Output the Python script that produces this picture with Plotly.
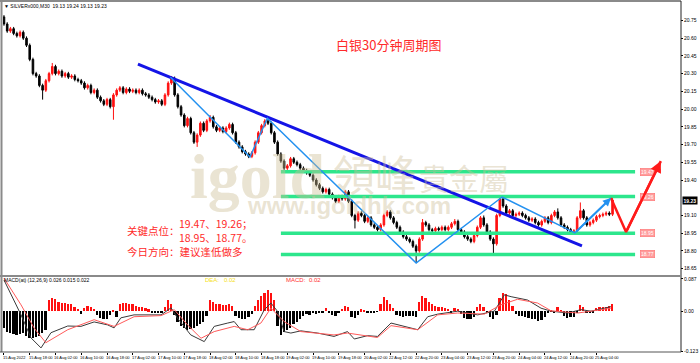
import plotly.graph_objects as go

W, H = 700, 363
def px(x): return x / W
def py(y): return 1 - y / H

# ---------------- data ----------------
closes = [
    20.72, 20.66, 20.68, 20.64, 20.62, 20.65,
    20.60, 20.54, 20.42, 20.30, 20.28, 20.20, 20.16, 20.24, 20.30, 20.36, 20.30, 20.32, 20.28, 20.30, 20.27, 20.28, 20.25, 20.24,
    20.22, 20.18, 20.20, 20.14, 20.16, 20.10, 20.07,
    20.04, 20.08, 20.02, 20.12,
    20.16, 20.18, 20.14, 20.17, 20.15, 20.16, 20.14, 20.16, 20.13, 20.12, 20.10,
    20.08, 20.06, 20.07, 20.04,
    20.12, 20.22, 20.26,
    20.12, 20.02, 19.95, 19.86, 19.92,
    19.80, 19.72, 19.78,
    19.88, 19.82, 19.90, 19.93, 19.85, 19.82, 19.84, 19.81, 19.84, 19.87, 19.80,
    19.72, 19.68, 19.64, 19.62, 19.60,
    19.63, 19.72, 19.80, 19.86, 19.90, 19.88,
    19.80, 19.72, 19.62, 19.56, 19.50, 19.52,
    19.58, 19.55, 19.53, 19.50, 19.48, 19.46, 19.44,
    19.40, 19.36, 19.33, 19.30, 19.32, 19.28,
    19.25, 19.22, 19.26, 19.24, 19.30,
    19.22, 19.10, 19.06, 19.12,
    19.10, 19.05, 19.08, 19.02, 19.00, 18.98, 19.02,
    19.10, 19.13, 19.08,
    19.04, 19.00, 18.96, 18.92, 18.90, 18.88, 18.84, 18.80,
    18.90, 19.04, 19.02,
    18.98, 18.97, 18.99, 18.98, 19.00, 18.98, 19.00, 19.03, 19.05,
    18.98, 18.96, 18.92, 18.90, 18.88, 18.93,
    19.00, 19.08, 19.02,
    18.96, 18.90, 18.86,
    19.10, 19.24,
    19.18, 19.12, 19.14, 19.10, 19.11, 19.12, 19.10, 19.08, 19.06, 19.07, 19.04,
    19.02, 19.05, 19.08, 19.04, 19.10, 19.13, 19.08, 19.02,
    19.00, 18.98, 18.96, 18.97,
    19.08, 19.14,
    19.08, 19.02, 19.04,
    19.06, 19.09, 19.10, 19.11, 19.12, 19.11,
    19.23,
]
first_open = 20.78
high_spikes = {0: 20.79, 15: 20.39, 52: 20.28, 64: 19.95, 82: 19.93, 130: 19.07,
               140: 19.07, 149: 19.10, 154: 19.27, 172: 19.16, 179: 19.21, 189: 19.25}
low_spikes = {12: 20.08, 34: 19.91, 60: 19.68, 76: 19.59, 87: 19.48, 109: 18.99,
              128: 18.70, 152: 18.78}

macd_hist = [
    -0.045, -0.055, -0.06, -0.062, -0.065, -0.062, -0.06, -0.068, -0.072, -0.073, -0.07, -0.066, -0.058, -0.05,
    0.03, 0.036, 0.034, 0.024, 0.022, 0.021, 0.02, 0.018, 0.012, 0.006,
    -0.007,
    0.008, 0.013, 0.012, 0.006,
    -0.01, -0.018, -0.022, -0.02, -0.01,
    0.002, -0.015,
    0.018, 0.022, 0.022, 0.02, 0.018, 0.015, 0.012, 0.01, 0.008, 0.005,
    -0.004, -0.006, -0.005, -0.004, 0.01,
    0.029, 0.02,
    -0.01, -0.03, -0.04, -0.045, -0.05, -0.048, -0.045, -0.04, -0.035, -0.03, -0.012,
    0.03, 0.025, 0.02, 0.018, 0.017, 0.016, 0.018, 0.014,
    -0.012, -0.018, -0.022, -0.02, -0.015, -0.008,
    0.015, 0.03, 0.042, 0.05, 0.058, 0.05, 0.03,
    -0.04, -0.063, -0.055, -0.05, -0.045, -0.035, -0.03, -0.02,
    -0.012, -0.008, -0.01, -0.006, -0.008, -0.006, -0.004, 0.008, -0.006, -0.01, -0.012, -0.006, 0.006, 0.014, 0.01,
    -0.015, -0.018, -0.01,
    0.005, 0.004,
    -0.004, -0.003, -0.005, -0.002,
    0.02, 0.038, 0.03, 0.018, 0.008,
    -0.01, -0.014, -0.015, -0.013, -0.014, -0.012, -0.015,
    0.025, 0.04, 0.036, 0.025, 0.018, 0.014, 0.012, 0.01, 0.008, 0.006,
    -0.004, 0.008, 0.007, -0.008,
    -0.018, -0.02, -0.022, -0.015,
    0.012, 0.02, 0.01, -0.005,
    -0.015, -0.022, -0.01,
    0.035, 0.05, 0.045, 0.03, 0.015,
    -0.008, -0.012, -0.014, -0.016, -0.018, -0.02, -0.022, -0.027, -0.024, -0.015,
    -0.004, 0.003, -0.005,
    0.012, 0.004,
    -0.012, -0.018, -0.017, -0.015, -0.004,
    0.016, 0.01,
    -0.004, -0.006, -0.003,
    0.008, 0.01, 0.011, 0.012, 0.013, 0.02,
]

dif_x = [0, 5.3, 8.4, 11.5, 14.6, 19.8, 23.9, 28, 32.2, 34.2, 36.3, 40.4, 48.8, 51.9, 53.9, 58, 62.2,
         65.3, 69.5, 71.5, 73.6, 77.7, 80.8, 82.9, 85, 87, 89.1, 92.2, 97.4, 102.5, 106.7, 108.8,
         112.9, 116, 120.2, 124.3, 128.5, 131.6, 134.7, 140.9, 147.1, 152.3, 155.4, 157.5, 162.6,
         166.8, 169.9, 175.1, 179.2, 182.3, 188.5]
dif_y = [0.084, -0.01, -0.072, -0.099, -0.058, -0.04, -0.041, -0.029, -0.037, -0.045, -0.018, -0.01,
         -0.01, 0.009, -0.019, -0.064, -0.082, -0.041, -0.032, -0.028, -0.05, -0.05, 0.003, 0.022,
         -0.001, -0.055, -0.059, -0.053, -0.059, -0.068, -0.055, -0.075, -0.066, -0.068, -0.032,
         -0.041, -0.05, -0.015, -0.008, 0.0, -0.01, 0.0, 0.044, 0.039, 0.03, 0.008, 0.0, -0.005,
         0.004, 0.0, 0.012]
dea_x = [0, 5.3, 9.4, 13, 19.8, 28, 34.2, 40.4, 48.8, 52.9, 57, 61.2, 65.3, 71.5, 75.7, 79.8, 82.9,
         87, 92.2, 102.5, 106.7, 112.9, 116, 120.2, 128.5, 134.7, 140.9, 149.2, 154.3, 159.5, 165.7,
         169.9, 178.2, 182.3, 188.5]
dea_y = [0.089, 0.017, -0.046, -0.085, -0.05, -0.023, -0.041, -0.015, -0.012, 0.004, -0.037, -0.073,
         -0.055, -0.041, -0.05, -0.032, 0.008, -0.028, -0.055, -0.064, -0.059, -0.066, -0.071, -0.039,
         -0.05, -0.01, -0.005, -0.008, 0.017, 0.032, 0.022, 0.001, -0.005, 0.0, 0.008]

levels = [19.47, 19.26, 18.95, 18.77]
level_labels = ["19.47", "19.26", "18.95", "18.77"]

trend_x = [41.6, 179.5]
trend_y = [20.381, 18.842]
zig_x = [51.7, 76.4, 81.8, 128.0, 154.7, 177.3, 188.5]
zig_y = [20.269, 19.595, 19.922, 18.698, 19.256, 18.952, 19.248]
proj_x = [188.5, 193.2, 204.0]
proj_y = [19.248, 18.96, 19.56]

price_ticks = [20.75, 20.60, 20.45, 20.30, 20.15, 20.00, 19.85, 19.70, 19.55, 19.40, 19.10, 18.95, 18.80, 18.65]
last_price = 19.23
date_labels = ["15 Aug 2022", "15 Aug 18:00", "16 Aug 02:00", "16 Aug 10:00", "16 Aug 18:00",
               "17 Aug 02:00", "17 Aug 10:00", "17 Aug 18:00", "18 Aug 02:00", "18 Aug 10:00",
               "18 Aug 18:00", "19 Aug 02:00", "19 Aug 10:00", "19 Aug 18:00", "20 Aug 02:00",
               "22 Aug 12:00", "22 Aug 20:00", "23 Aug 04:00", "23 Aug 12:00", "23 Aug 20:00",
               "24 Aug 04:00", "24 Aug 12:00", "24 Aug 20:00", "25 Aug 04:00"]
BARS_PER_LABEL = 8

# ---------------- build ----------------
n = len(closes)
xs = list(range(n))
opens = [first_open] + closes[:-1]
WICK = 0.015
highs, lows = [], []
for i, (o, c) in enumerate(zip(opens, closes)):
    h = max(o, c) + WICK
    l = min(o, c) - WICK
    if i in high_spikes:
        h = max(h, high_spikes[i])
    if i in low_spikes:
        l = min(l, low_spikes[i])
    highs.append(h)
    lows.append(l)

fig = go.Figure()
fig.add_trace(go.Candlestick(
    x=xs, open=opens, high=highs, low=lows, close=closes,
    increasing=dict(line=dict(color="#ff1010", width=1), fillcolor="#ff1010"),
    decreasing=dict(line=dict(color="#000000", width=1), fillcolor="#000000"),
    whiskerwidth=0, showlegend=False, hoverinfo="skip", xaxis="x", yaxis="y"))

LEVEL_X0, LEVEL_X1 = 86, 196
for lv in levels:
    fig.add_trace(go.Scatter(x=[LEVEL_X0, LEVEL_X1], y=[lv, lv], mode="lines",
                             line=dict(color="#2de68c", width=3.5), showlegend=False,
                             hoverinfo="skip", xaxis="x", yaxis="y"))

fig.add_trace(go.Scatter(x=trend_x, y=trend_y, mode="lines",
                         line=dict(color="#1414e6", width=3), showlegend=False,
                         hoverinfo="skip", xaxis="x", yaxis="y"))
fig.add_trace(go.Scatter(x=zig_x, y=zig_y, mode="lines",
                         line=dict(color="#2391f0", width=1.5), showlegend=False,
                         hoverinfo="skip", xaxis="x", yaxis="y"))
fig.add_trace(go.Scatter(x=proj_x, y=proj_y, mode="lines",
                         line=dict(color="#ff1a1a", width=2.5), showlegend=False,
                         hoverinfo="skip", xaxis="x", yaxis="y"))

# MACD panel
fig.add_trace(go.Bar(x=xs, y=macd_hist, width=0.55,
                     marker=dict(color=["#ff1010" if v >= 0 else "#000000" for v in macd_hist], line=dict(width=0)),
                     showlegend=False, hoverinfo="skip", xaxis="x2", yaxis="y2"))
fig.add_trace(go.Scatter(x=dif_x, y=dif_y, mode="lines", line=dict(color="#3a3a3a", width=1),
                         showlegend=False, hoverinfo="skip", xaxis="x2", yaxis="y2"))
fig.add_trace(go.Scatter(x=dea_x, y=dea_y, mode="lines", line=dict(color="#ff5a5a", width=1),
                         showlegend=False, hoverinfo="skip", xaxis="x2", yaxis="y2"))

# ---------------- layout ----------------
PX_PER_BAR = 3.22
X0, X1 = 3, 680
xr0 = -0.3
xr1 = xr0 + (X1 - X0) / PX_PER_BAR
P_TOP, P_BOT = 3, 275
PRICE_PX = 118.2
def price_at(yp): return 19.40 + (180 - yp) / PRICE_PX
M_TOP, M_BOT = 277, 352

tickfont = dict(family="Liberation Sans", size=5, color="#000000")
fig.update_layout(
    width=W, height=H, margin=dict(l=0, r=0, t=0, b=0),
    paper_bgcolor="white", plot_bgcolor="white", showlegend=False, bargap=0,
    xaxis=dict(domain=[px(X0), px(X1)], range=[xr0, xr1], showticklabels=False, showgrid=False,
               zeroline=False, rangeslider=dict(visible=False), anchor="y", fixedrange=True),
    yaxis=dict(domain=[py(P_BOT), py(P_TOP)], range=[price_at(P_BOT), price_at(P_TOP)], side="right",
               tickvals=price_ticks, ticktext=[f"{v:.2f}" for v in price_ticks], ticks="outside",
               ticklen=2, tickcolor="#000", tickfont=tickfont, showgrid=False, zeroline=False,
               showline=False, anchor="x", automargin=False),
    xaxis2=dict(domain=[px(X0), px(X1)], range=[xr0, xr1], matches="x", showticklabels=False,
                showgrid=False, zeroline=False, anchor="y2",
                tickvals=[BARS_PER_LABEL * j for j in range(len(date_labels))],
                ticks="outside", ticklen=2, tickcolor="#000"),
    yaxis2=dict(domain=[py(M_BOT), py(M_TOP)], range=[-0.11, 0.092], side="right",
                tickvals=[0.087, 0.0, -0.1075], ticktext=["0.087", "0.00", "-0.123"],
                ticks="outside", ticklen=2, tickcolor="#000", tickfont=tickfont,
                showgrid=False, zeroline=False, anchor="x2", automargin=False),
)

shapes = [
    dict(type="line", xref="paper", yref="paper", x0=px(1.5), x1=px(1.5), y0=py(1), y1=py(M_BOT), line=dict(color="#8a8a8a", width=2)),
    dict(type="line", xref="paper", yref="paper", x0=px(0), x1=px(681), y0=py(1), y1=py(1), line=dict(color="#8a8a8a", width=2)),
    dict(type="line", xref="paper", yref="paper", x0=px(681), x1=px(681), y0=py(1), y1=py(M_BOT), line=dict(color="#222", width=1)),
    dict(type="line", xref="paper", yref="paper", x0=px(0), x1=px(681), y0=py(276), y1=py(276), line=dict(color="#8a8a8a", width=2)),
    dict(type="line", xref="paper", yref="paper", x0=px(0), x1=px(681), y0=py(M_BOT), y1=py(M_BOT), line=dict(color="#555", width=1)),
]
fig.update_layout(shapes=shapes)

def txt(text, x, y, size, color, family="Liberation Sans", xanchor="center", **kw):
    d = dict(text=text, xref="paper", yref="paper", x=px(x), y=py(y), xanchor=xanchor,
             yanchor="middle", showarrow=False, borderpad=0,
             font=dict(family=family, size=size, color=color))
    d.update(kw)
    return d

ann = []
wm = "rgba(205,190,150,0.42)"
ann.append(txt("<b>igold</b>", 257, 176, 64, wm, family="Liberation Serif"))
ann.append(txt("領峰", 375, 172, 42, wm, family="Noto Sans CJK TC"))
ann.append(txt("貴金屬", 464, 177, 30, wm, family="Noto Sans CJK TC"))
ann.append(txt("<b>www.igoldhk.com</b>", 349, 205, 24, wm))

red = "#ff2a2a"
cjk = "Noto Sans CJK SC"
ann.append(txt("白银30分钟周期图", 388, 44, 13, red, family=cjk))
ann.append(txt("关键点位：", 126, 230, 10.5, red, family=cjk, xanchor="left"))
ann.append(txt("19.47、19.26；", 178, 223, 10.5, red, family=cjk, xanchor="left"))
ann.append(txt("18.95、18.77。", 178, 237, 10.5, red, family=cjk, xanchor="left"))
ann.append(txt("今日方向：建议逢低做多", 126, 251, 10.5, red, family=cjk, xanchor="left"))

ann.append(txt("▼ SILVERx000,M30  19.13 19.24 19.13 19.23", 3, 6, 5, "#000", xanchor="left"))
ann.append(txt("MACD(at) (12,26,9) 0.026 0.015 0.022", 3, 280, 5, "#000", xanchor="left"))
ann.append(txt("DEA:", 204, 280, 6, "#f5e020", xanchor="left"))
ann.append(txt("0.02", 223, 280, 6, "#f5e020", xanchor="left"))
ann.append(txt("MACD:", 285, 280, 6, "#ff3030", xanchor="left"))
ann.append(txt("0.02", 308, 280, 6, "#ff3030", xanchor="left"))

for j, lab in enumerate(date_labels):
    ann.append(dict(text=lab, xref="x", yref="paper", x=BARS_PER_LABEL * j, y=py(357), xanchor="left",
                    yanchor="middle", xshift=-2, showarrow=False, borderpad=0,
                    font=dict(family="Liberation Sans", size=4, color="#000")))

LABEL_BAR = 200
for lv, lab in zip(levels, level_labels):
    ann.append(dict(text=lab, xref="x", yref="y", x=LABEL_BAR, y=lv, showarrow=False,
                    xanchor="center", yanchor="middle",
                    font=dict(family="Liberation Sans", size=5, color="#ffffff"),
                    bgcolor="#ff9c9c", bordercolor="#ff6a6a", borderwidth=0.5, borderpad=0.5))

ann.append(dict(text="<b>%.2f</b>" % last_price, xref="paper", yref="y", x=px(682), y=last_price,
                xanchor="left", yanchor="middle", showarrow=False, bgcolor="#000", borderpad=0.5,
                font=dict(family="Liberation Sans", size=5, color="#fff")))

# arrowheads on last segments
ann.append(dict(text="", xref="x", yref="y", axref="x", ayref="y", x=zig_x[-1], y=zig_y[-1],
                ax=zig_x[-2], ay=zig_y[-2], showarrow=True, arrowhead=2, arrowsize=0.8,
                arrowwidth=2, arrowcolor="#2391f0"))
ann.append(dict(text="", xref="x", yref="y", axref="x", ayref="y", x=proj_x[-1], y=proj_y[-1],
                ax=proj_x[-2], ay=proj_y[-2], showarrow=True, arrowhead=2, arrowsize=0.9,
                arrowwidth=2.5, arrowcolor="#ff1a1a"))
fig.update_layout(annotations=ann)

fig.write_html("out.html", config={"displayModeBar": False})
